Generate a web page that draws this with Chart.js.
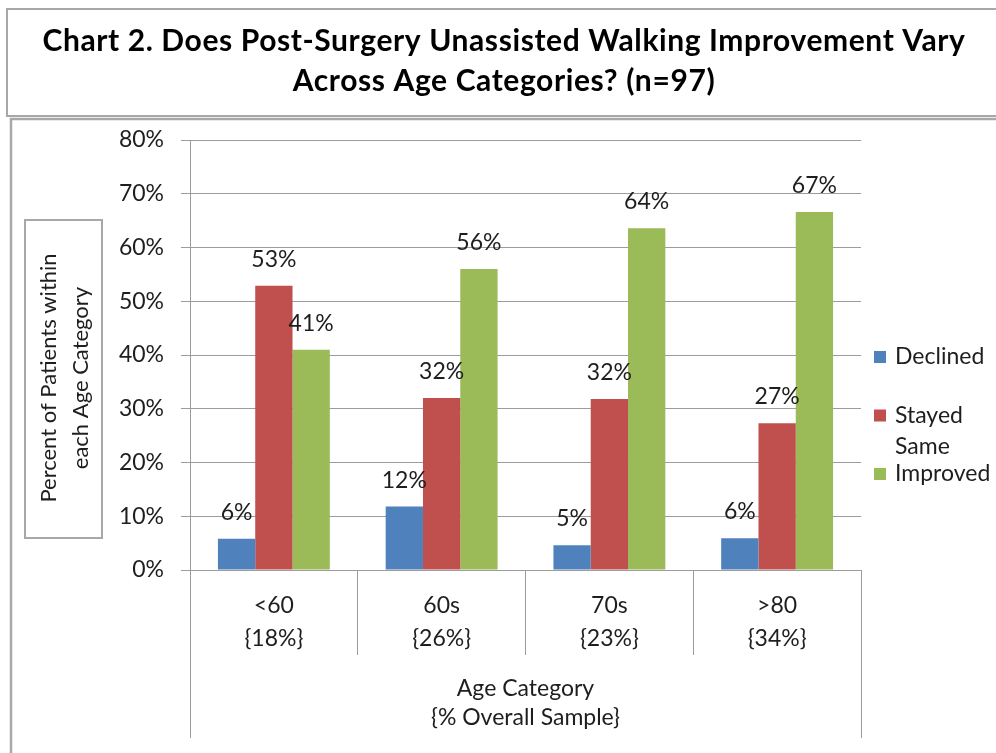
<!DOCTYPE html>
<html>
<head>
<meta charset="utf-8">
<script src="https://cdn.jsdelivr.net/npm/chart.js@4.4.1/dist/chart.umd.min.js"></script>
<style>
  html, body { margin: 0; padding: 0; background: #fff; }
  #wrap { width: 996px; height: 753px; position: relative; overflow: hidden; }
</style>
</head>
<body>
<div id="wrap"><canvas id="chart" width="996" height="753"></canvas></div>
<script>
// chart data
const ageCategories = [['<60', '{18%}'], ['60s', '{26%}'], ['70s', '{23%}'], ['>80', '{34%}']];
const seriesNames = ['Declined', 'Stayed Same', 'Improved'];
const declined = [5.8, 11.8, 4.6, 5.9];
const stayedSame = [52.9, 32.0, 31.8, 27.3];
const improved = [41.0, 56.0, 63.6, 66.6];
const seriesColors = ['#4F81BD', '#C0504D', '#9BBB59'];
const yMin = 0, yMax = 80, yStep = 10;

const titleLines = ['Chart 2. Does Post-Surgery Unassisted Walking Improvement Vary', 'Across Age Categories? (n=97)'];
const yTitleLines = ['Percent of Patients within', 'each Age Category'];
const xTitleLines = ['Age Category', '{% Overall Sample}'];

const FONT = 'Lato, "Open Sans", sans-serif';
const TEXT = '#1e1e1e';
const GRID = '#9c9c9c';
const FRAME = '#a8a8a8';

const decorPlugin = {
    id: 'decor',
    beforeDraw(chart) {
        const ctx = chart.ctx;
        ctx.save();
        ctx.fillStyle = '#fff';
        ctx.fillRect(0, 0, chart.width, chart.height);

        // title box
        ctx.strokeStyle = FRAME;
        ctx.lineWidth = 2;
        ctx.strokeRect(7, 9, 1010, 107);
        // chart box (left + top edges visible)
        ctx.lineWidth = 2.5;
        ctx.beginPath();
        ctx.moveTo(11, 800);
        ctx.lineTo(11, 119);
        ctx.lineTo(1000, 119);
        ctx.stroke();

        // title text
        ctx.fillStyle = '#000';
        ctx.textAlign = 'center';
        ctx.textBaseline = 'alphabetic';
        ctx.font = 'bold 30px ' + FONT;
        ctx.letterSpacing = '0.6px';
        ctx.fillText(titleLines[0], 504, 51);
        ctx.fillText(titleLines[1], 504, 91);
        ctx.letterSpacing = '0px';

        // y axis title box
        ctx.strokeStyle = FRAME;
        ctx.lineWidth = 2;
        ctx.strokeRect(25, 220, 77, 318);
        ctx.translate(65, 378);
        ctx.rotate(-Math.PI / 2);
        ctx.fillStyle = TEXT;
        ctx.font = '22px ' + FONT;
        ctx.textBaseline = 'middle';
        ctx.fillText(yTitleLines[0], 0, -16);
        ctx.fillText(yTitleLines[1], 0, 16);
        ctx.restore();
    },
    afterDatasetsDraw(chart) {
        const ctx = chart.ctx;
        ctx.save();
        ctx.fillStyle = TEXT;
        ctx.font = '23px ' + FONT;
        ctx.textAlign = 'center';
        ctx.textBaseline = 'alphabetic';
        chart.data.datasets.forEach((ds, i) => {
            chart.getDatasetMeta(i).data.forEach((bar, j) => {
                ctx.fillText(Math.round(ds.data[j]) + '%', bar.x, bar.y - 19);
            });
        });
        ctx.restore();
    },
    afterDraw(chart) {
        const ctx = chart.ctx;
        const area = chart.chartArea;
        ctx.save();
        // outer category separators run down past the axis title
        ctx.strokeStyle = GRID;
        ctx.lineWidth = 1;
        ctx.beginPath();
        [area.left, area.right].forEach(x => {
            const px = Math.round(x) + 0.5;
            ctx.moveTo(px, area.bottom);
            ctx.lineTo(px, 738);
        });
        ctx.stroke();

        // legend on the right, wrapping long names
        ctx.font = '23px ' + FONT;
        ctx.textAlign = 'left';
        ctx.textBaseline = 'middle';
        const maxW = 101;
        chart.data.datasets.forEach((ds, i) => {
            const y = 357 + i * 58.5;
            ctx.fillStyle = ds.backgroundColor;
            ctx.fillRect(874, y - 6, 12, 12);
            ctx.fillStyle = TEXT;
            let lines = [ds.label];
            if (ctx.measureText(ds.label).width > maxW) lines = ds.label.split(' ');
            lines.forEach((t, k) => ctx.fillText(t, 895, y + k * 31));
        });
        ctx.restore();
    }
};

new Chart(document.getElementById('chart'), {
    type: 'bar',
    data: {
        labels: ageCategories,
        datasets: [
            { label: seriesNames[0], data: declined, backgroundColor: seriesColors[0] },
            { label: seriesNames[1], data: stayedSame, backgroundColor: seriesColors[1] },
            { label: seriesNames[2], data: improved, backgroundColor: seriesColors[2] }
        ]
    },
    options: {
        responsive: false,
        animation: false,
        devicePixelRatio: 1,
        layout: { padding: { top: 140, right: 135, bottom: 0, left: 0 } },
        datasets: { bar: { categoryPercentage: 0.667, barPercentage: 1.0 } },
        plugins: {
            legend: { display: false },
            tooltip: { enabled: false },
            title: { display: false }
        },
        scales: {
            x: {
                afterFit: s => { s.height = 183; },
                grid: { offset: true, drawOnChartArea: false, color: GRID, tickLength: 85 },
                border: { color: GRID },
                ticks: {
                    color: TEXT,
                    padding: -66,
                    font: { family: FONT, size: 23, lineHeight: 1.43 },
                    maxRotation: 0
                },
                title: {
                    display: true,
                    text: xTitleLines,
                    color: TEXT,
                    font: { family: FONT, size: 23, lineHeight: 1.3 },
                    padding: { top: 0, bottom: 20 }
                }
            },
            y: {
                min: yMin,
                max: yMax,
                afterFit: s => { s.width = 190; },
                grid: { color: GRID, tickLength: 9 },
                border: { color: GRID },
                ticks: {
                    stepSize: yStep,
                    color: TEXT,
                    padding: 17,
                    font: { family: FONT, size: 23 },
                    callback: v => v + '%'
                }
            }
        }
    },
    plugins: [decorPlugin]
});
</script>
</body>
</html>
